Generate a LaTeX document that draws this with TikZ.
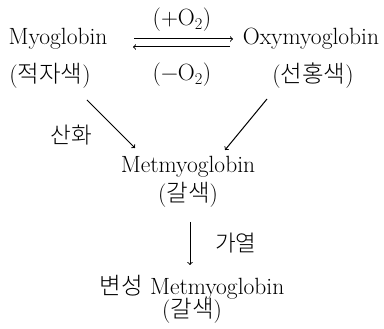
\documentclass[tikz,border=0pt]{standalone}
\usepackage{fontspec}
\newfontfamily\kr{Noto Sans CJK KR Light}
\usetikzlibrary{calc}
\begin{document}
\begin{tikzpicture}[x=1pt, y=-1pt,
  font=\fontsize{23.5}{27}\selectfont,
  chem/.style={inner sep=0pt},
  clr/.style={inner sep=0pt},
  lbl/.style={inner sep=0pt, font=\fontsize{22.5}{26}\selectfont\kr},
  rxn/.style={->, line width=1pt},
]
\useasboundingbox (0,0) rectangle (384,329);
% --- first row: Myoglobin <=> Oxymyoglobin ---
\node[chem] (mb)  at (58,39)  {Myoglobin};
\node[chem] (oxy) at (311,39) {Oxymyoglobin};
\node[clr]  (mbc) at (50,76)  {({\kr 적자색})};
\node[clr]  (oxc) at (313,76) {({\kr 선홍색})};
\node[chem] (plus)  at (182,20) {(+O\textsubscript{2})};
\node[chem] (minus) at (182,75) {(−O\textsubscript{2})};
\draw[rxn] ($(mb)+(76,0)$) -- ($(oxy)+(-78,0)$);
\draw[rxn] ($(oxy)+(-81,8)$) -- ($(mb)+(75,8)$);
% --- middle: Metmyoglobin ---
\node[chem] (met)  at (188,167) {Metmyoglobin};
\node[clr]  (metc) at (188,195) {({\kr 갈색})};
\draw[rxn] ($(mbc)+(37,24)$) -- ($(met)+(-53,-19)$);
\draw[rxn] ($(oxc)+(-46,23)$) -- ($(met)+(37,-17)$);
\node[lbl] (ox) at (71,135) {산화};
% --- bottom: denatured ---
\node[chem] (dmet)  at (192,287) {{\kr 변성} Metmyoglobin};
\node[clr]  (dmetc) at (192,311) {({\kr 갈색})};
\draw[rxn] ($(metc)+(2,27)$) -- ($(dmet)+(-2,-22)$);
\node[lbl] (heat) at (236,243) {가열};
\end{tikzpicture}
\end{document}
